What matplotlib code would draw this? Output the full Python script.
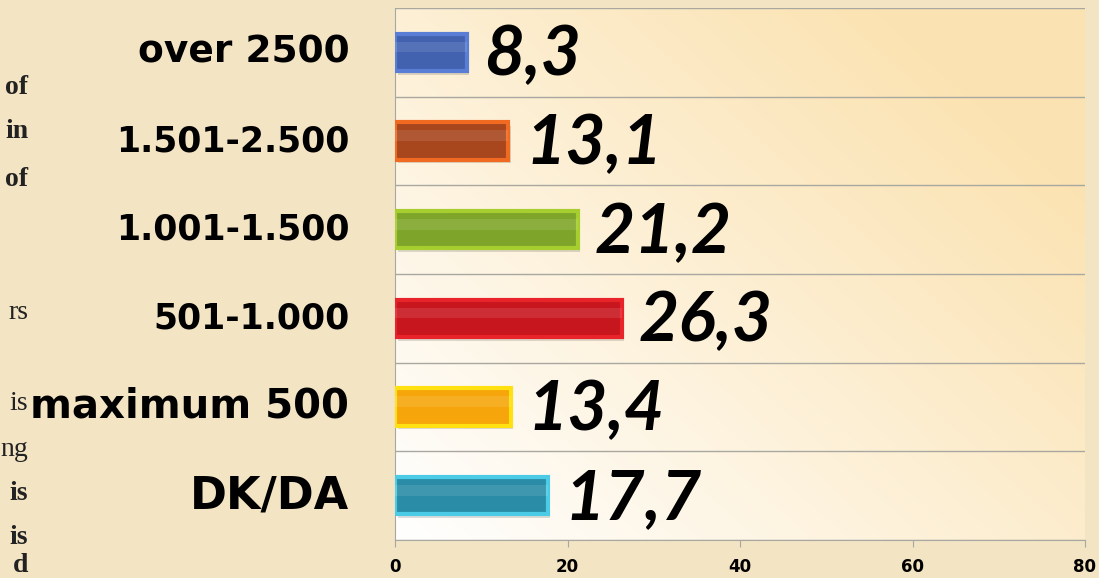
import matplotlib

matplotlib.use("Agg")

import numpy as np
import matplotlib.pyplot as plt

categories = ["DK/DA", "maximum 500", "501-1.000", "1.001-1.500", "1.501-2.500", "over 2500"]
values = [17.7, 13.4, 26.3, 21.2, 13.1, 8.3]
value_labels = ["17,7", "13,4", "26,3", "21,2", "13,1", "8,3"]
x_ticks = [0, 20, 40, 60, 80]

bar_faces = ["#2A8CA6", "#F6A60A", "#C8161E", "#7EA52A", "#A8461E", "#4262B0"]
bar_edges = ["#4CCBE6", "#FFE010", "#E8242A", "#A6CE2E", "#F06A22", "#5A7ED6"]
label_sizes = [32, 29, 25, 25, 25, 27]

# Cut-off words of the slide text at the left edge: (text, y pixel, bold)
fragments = [("of", 88, True), ("in", 132, True), ("of", 180, True), ("rs", 312, False),
             ("is", 403, False), ("ng", 449, False), ("is", 493, True), ("is", 537, True),
             ("d", 565, True)]

W, H = 1099, 578
fig = plt.figure(figsize=(W / 100, H / 100), dpi=100)
fig.patch.set_facecolor("#F3E4C4")

ax = fig.add_axes([395 / W, 1 - 540 / H, (1085 - 395) / W, (540 - 8) / H])
ax.set_xlim(0, 80)
ax.set_ylim(-0.5, 5.5)

# warm gradient inside the plot area: white bottom-left to cream top-right
gx, gy = np.meshgrid(np.linspace(0, 1, 200), np.linspace(0, 1, 200))
t = np.clip((gx * 0.65 + gy * 0.55), 0, 1)
c0 = np.array([1.0, 1.0, 1.0])
c1 = np.array([0.985, 0.89, 0.70])
img = c0 + (c1 - c0) * t[..., None]
ax.imshow(img, extent=[0, 80, -0.5, 5.5], origin="lower", aspect="auto", zorder=0)

for yv in np.arange(-0.5, 5.6, 1.0):
    ax.axhline(yv, color="#A8A8A0", linewidth=1.0, zorder=1)

y = np.arange(len(categories))
# soft shadow
ax.barh(y - 0.04, values, height=0.42, left=0.3, color="#00000022", zorder=2)
ax.barh(y, values, height=0.42, color=bar_faces, edgecolor=bar_edges, linewidth=3, zorder=3)
# glossy highlight strip
ax.barh(y + 0.06, values, height=0.12, color="#FFFFFF", alpha=0.10, zorder=4, linewidth=0)

for yi, v, lab in zip(y, values, value_labels):
    ax.text(v + 2.0, yi - 0.04, lab, ha="left", va="center", fontsize=50, fontweight="bold",
            fontstyle="italic", family="Lato", color="black", zorder=5)

ax.set_yticks(y)
ax.set_yticklabels([])
for yi, cat, fs in zip(y, categories, label_sizes):
    ax.text(-5.3, yi, cat, ha="right", va="center", fontsize=fs, fontweight="bold",
            family="DejaVu Sans", color="black", clip_on=False, zorder=6)

ax.set_xticks(x_ticks)
ax.set_xticklabels([str(v) for v in x_ticks], fontsize=12, fontweight="bold", family="DejaVu Sans Condensed")
ax.tick_params(axis="y", length=0)
ax.tick_params(axis="x", length=5, color="#A8A8A0", pad=8)
for s in ["top", "right"]:
    ax.spines[s].set_visible(False)
ax.spines["left"].set_color("#A8A8A0")
ax.spines["bottom"].set_color("#A8A8A0")

for txt, py, bold in fragments:
    fig.text(28 / W, 1 - py / H, txt, ha="right", va="center", fontsize=20,
             fontweight="bold" if bold else "normal", family="Liberation Serif", color="#222222",
             zorder=1)

fig.savefig("out.png", dpi=100, facecolor=fig.get_facecolor())
